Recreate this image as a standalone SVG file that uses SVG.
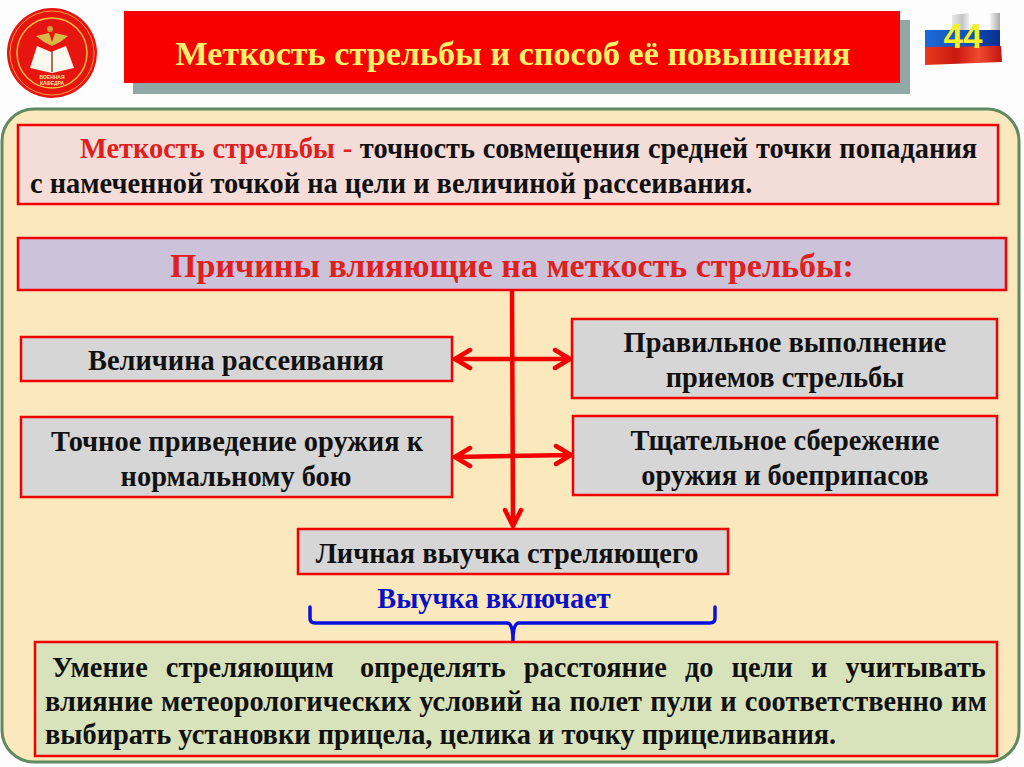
<svg xmlns="http://www.w3.org/2000/svg" width="1024" height="767" viewBox="0 0 1024 767">
<defs>
<linearGradient id="white" x1="0" x2="1" y1="0" y2="0"><stop offset="0" stop-color="#e8e8e8"/><stop offset="0.6" stop-color="#c4c4c4"/><stop offset="1" stop-color="#efefef"/></linearGradient>
<linearGradient id="gray2" x1="0" x2="1" y1="0" y2="0"><stop offset="0" stop-color="#f2f2f2"/><stop offset="1" stop-color="#a8a8a8"/></linearGradient>
<linearGradient id="blue" x1="0" x2="1" y1="0" y2="0"><stop offset="0" stop-color="#1c6ad8"/><stop offset="0.6" stop-color="#0f50b8"/><stop offset="1" stop-color="#08308c"/></linearGradient>
<linearGradient id="red" x1="0" x2="1" y1="0" y2="0"><stop offset="0" stop-color="#e83a20"/><stop offset="0.4" stop-color="#c81810"/><stop offset="0.7" stop-color="#f04a30"/><stop offset="1" stop-color="#c01410"/></linearGradient>
</defs>
<style>
text{font-family:"Liberation Serif","Times New Roman",serif;font-weight:bold;fill:#111}
.box{fill:#d6d6d6;stroke:#f00000;stroke-width:2.5}
.t{font-size:28.4px;text-anchor:middle}
.b{font-size:28.4px}
.c{fill:none;stroke:#f40000;stroke-width:4.5;stroke-linecap:round;stroke-linejoin:round}
</style>
<rect width="1024" height="767" fill="#fdfdfd"/>
<g id="logo">
<circle cx="52" cy="53" r="45" fill="#e8140f"/>
<circle cx="52" cy="53" r="35" fill="none" stroke="#f0c040" stroke-width="1.5"/>
<circle cx="52" cy="53" r="42" fill="none" stroke="#f0a040" stroke-width="1"/>
<path d="M36 36L49 33L52 42L55 33L68 36L60 42L52 46L44 42Z" fill="#d9b84a"/>
<circle cx="50" cy="29" r="3" fill="#c9a040"/>
<path d="M30 68L37 46L51 52L66 46L74 68L52 73Z" fill="#fbf8ee"/>
<path d="M52 51V72" stroke="#8a4a30" stroke-width="1.5"/>
<text x="52" y="79" font-size="5" text-anchor="middle" style="font-family:'Liberation Sans',sans-serif;fill:#f6e6a0">ВОЕННАЯ</text>
<text x="52" y="85" font-size="5" text-anchor="middle" style="font-family:'Liberation Sans',sans-serif;fill:#f6e6a0">КАФЕДРА</text>
</g>
<g id="title">
<rect x="133" y="20" width="777" height="74" fill="#8fa9a7"/>
<rect x="124" y="11" width="776" height="72" fill="#f80000"/>
<text x="513" y="65" font-size="34.2" text-anchor="middle" style="fill:#fbf26a">Меткость стрельбы и способ её повышения</text>
</g>
<g id="flag">
<path d="M952 15L969 13V30H952Z" fill="url(#white)"/>
<path d="M990 13L1000 13V30H990Z" fill="url(#gray2)"/>
<path d="M925 30L1000 30V47L925 47Z" fill="url(#blue)"/>
<path d="M925 47L1001 46L1002 62L925 65Z" fill="url(#red)"/>
<text x="963" y="48" font-size="35" text-anchor="middle" style="font-family:'Liberation Sans',sans-serif;fill:#f4f02c">44</text>
</g>
<g id="panel">
<rect x="2" y="109" width="1017" height="653" rx="32" fill="#fbe9bd" stroke="#5f8a62" stroke-width="3"/>
</g>
<g id="connectors">
<path class="c" d="M512 291L513 525M505 510L513 526L521 510"/>
<path class="c" d="M455 359H570M470 350L455 359L470 368M555 350L570 359L555 368"/>
<path class="c" d="M455 457L571 455M470 448L455 457L470 466M556 446L571 455L556 464"/>
<path d="M310 607V618Q310 623 315 623H507Q513 623 513 641Q513 623 519 623H710Q715 623 715 618V607" fill="none" stroke="#0a10dc" stroke-width="3.5" stroke-linecap="round"/>
</g>
<g id="definition">
<rect x="18" y="125" width="980" height="79" fill="#f4dcd9" stroke="#f00000" stroke-width="2.5"/>
<text x="80" y="158" class="b" word-spacing="0.6" style="fill:#e02020">Меткость стрельбы - <tspan style="fill:#111">точность совмещения средней точки попадания</tspan></text>
<text x="30" y="193" class="b">с намеченной точкой на цели и величиной рассеивания.</text>
</g>
<g id="causes">
<rect x="18" y="238" width="988" height="52" fill="#ccc3da" stroke="#f00000" stroke-width="2.5"/>
<text x="512" y="277" font-size="34" text-anchor="middle" style="fill:#e02020">Причины влияющие на меткость стрельбы:</text>
</g>
<g id="n1"><rect class="box" x="21" y="337" width="431" height="44"/><text class="t" x="236" y="370">Величина рассеивания</text></g>
<g id="n2"><rect class="box" x="572" y="319" width="425" height="79"/><text class="t" x="785" y="352">Правильное выполнение</text><text class="t" x="785" y="387">приемов стрельбы</text></g>
<g id="n3"><rect class="box" x="21" y="417" width="431" height="80"/><text class="t" x="237" y="451">Точное приведение оружия к</text><text class="t" x="236" y="486">нормальному бою</text></g>
<g id="n4"><rect class="box" x="573" y="416" width="424" height="79"/><text class="t" x="785" y="450">Тщательное сбережение</text><text class="t" x="785" y="485">оружия и боеприпасов</text></g>
<g id="n5"><rect class="box" x="298" y="529" width="430" height="45"/><text class="t" x="507" y="563">Личная выучка стреляющего</text></g>
<text x="494" y="608" class="t" style="fill:#0a10c8">Выучка включает</text>
<g id="skills">
<rect x="35" y="642" width="962" height="114" fill="#d9e3bb" stroke="#f00000" stroke-width="2.5"/>
<text x="52" y="677" class="b" word-spacing="11">Умение стреляющим <tspan dx="8">определять</tspan> расстояние до цели и учитывать</text>
<text x="45" y="711" class="b" word-spacing="1">влияние метеорологических условий на полет пули и соответственно им</text>
<text x="45" y="744" class="b">выбирать установки прицела, целика и точку прицеливания.</text>
</g>
</svg>
